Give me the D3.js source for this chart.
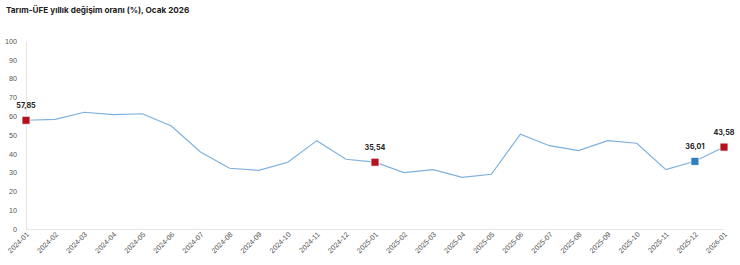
<!DOCTYPE html>
<html>
<head>
<meta charset="utf-8">
<script src="https://cdn.jsdelivr.net/npm/d3@7"></script>
<style>
  body { margin: 0; background: #fff; font-family: Inter, "Noto Sans", sans-serif; }
  .title { font-weight: 700; font-size: 8.2px; fill: #222; }
  .tick text { fill: #555; font-size: 7.2px; }
  .line { fill: none; stroke: #7eb0dd; stroke-width: 1.2px; }
  .lbl { font-size: 7.2px; font-weight: 700; fill: #222; }
</style>
</head>
<body>
<script>
const months = ['2024-01','2024-02','2024-03','2024-04','2024-05','2024-06','2024-07','2024-08','2024-09','2024-10','2024-11','2024-12',
  '2025-01','2025-02','2025-03','2025-04','2025-05','2025-06','2025-07','2025-08','2025-09','2025-10','2025-11','2025-12','2026-01']
const values = [57.85, 58.3, 62.1, 60.8, 61.3, 54.8, 41.0, 32.3, 31.2, 35.5, 47.0, 37.1,
  35.54, 30.0, 31.6, 27.5, 29.1, 50.4, 44.3, 41.7, 47.0, 45.6, 31.6, 36.01, 43.58]
const yTicks = [0, 10, 20, 30, 40, 50, 60, 70, 80, 90, 100]
// highlighted points: index, label, colour
const marked = [
  { i: 0, label: '57,85', color: '#b3121d' },
  { i: 12, label: '35,54', color: '#b3121d' },
  { i: 23, label: '36,01', color: '#2e7ec1' },
  { i: 24, label: '43,58', color: '#b3121d' }
]

const w = 740, h = 265
const padL = 26, padR = 724, padT = 41, padB = 229

const svg = d3.select('body').append('svg')
  .attr('width', w).attr('height', h)

svg.append('text').attr('class', 'title')
  .attr('x', 6).attr('y', 13)
  .text('Tarım-ÜFE yıllık değişim oranı (%), Ocak 2026')

const x = d3.scalePoint().domain(months).range([padL, padR])
const y = d3.scaleLinear().domain([0, 100]).range([padB, padT])

const yAxis = svg.append('g')
  .attr('transform', `translate(${padL},0)`)
  .call(d3.axisLeft(y).tickValues(yTicks).tickSize(0).tickPadding(9))
yAxis.select('.domain').attr('stroke', '#e6e6e6')

const xAxis = svg.append('g')
  .attr('transform', `translate(0,${padB})`)
  .call(d3.axisBottom(x).tickSize(0).tickPadding(0))
xAxis.select('.domain').attr('stroke', '#e6e6e6')
xAxis.selectAll('text')
  .attr('text-anchor', 'end')
  .attr('dy', 0)
  .attr('transform', 'translate(3,6) rotate(-45)')

const line = d3.line()
  .x((d, i) => x(months[i]))
  .y(d => y(d))

svg.append('path')
  .datum(values)
  .attr('class', 'line')
  .attr('d', line)

const s = 8
svg.selectAll('.mark')
  .data(marked)
  .enter().append('rect')
  .attr('class', 'mark')
  .attr('x', d => x(months[d.i]) - s / 2)
  .attr('y', d => y(values[d.i]) - s / 2)
  .attr('width', s).attr('height', s)
  .attr('fill', d => d.color)
  .attr('stroke', '#fff').attr('stroke-width', 0.8)

svg.selectAll('.lbl')
  .data(marked)
  .enter().append('text')
  .attr('class', 'lbl')
  .attr('text-anchor', 'middle')
  .attr('x', d => x(months[d.i]))
  .attr('y', d => y(values[d.i]) - 12)
  .text(d => d.label)
</script>
</body>
</html>
